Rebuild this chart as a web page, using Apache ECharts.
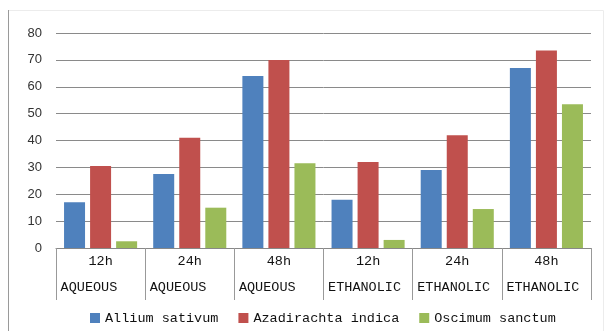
<!DOCTYPE html>
<html>
<head>
<meta charset="utf-8">
<script src="https://cdn.jsdelivr.net/npm/echarts@6/dist/echarts.min.js"></script>
<style>
  html, body { margin: 0; padding: 0; background: #fff; }
  #chart { width: 608px; height: 331px; }
</style>
</head>
<body>
<div id="chart"></div>
<script>
// Extraction time and solvent for each group of bars
const times = ['12h', '24h', '48h', '12h', '24h', '48h'];
const solvents = ['AQUEOUS', 'AQUEOUS', 'AQUEOUS', 'ETHANOLIC', 'ETHANOLIC', 'ETHANOLIC'];

const seriesNames = ['Allium sativum', 'Azadirachta indica', 'Oscimum sanctum'];
const alliumSativum = [17, 27.5, 64, 18, 29, 67];
const azadirachtaIndica = [30.5, 41, 70, 32, 42, 73.5];
const oscimumSanctum = [2.5, 15, 31.5, 3, 14.5, 53.5];

const yTicks = { min: 0, max: 80, interval: 10 };
const colors = ['#4F81BD', '#C0504D', '#9BBB59'];

const categories = times.map((t, i) => t + '|' + solvents[i]);
const values = [alliumSativum, azadirachtaIndica, oscimumSanctum];

const chart = echarts.init(document.getElementById('chart'));
chart.setOption({
  animation: false,
  color: colors,
  graphic: [
    { type: 'rect', shape: { x: 8.5, y: 10.5, width: 595, height: 330 },
      style: { fill: 'none', stroke: '#ececec', lineWidth: 1 } },
    { type: 'line', shape: { x1: 8.5, y1: 10, x2: 8.5, y2: 331 },
      style: { stroke: '#9a9a9a', lineWidth: 1 } }
  ],
  grid: { left: 56, right: 17, top: 33, bottom: 83 },
  legend: {
    left: 90,
    top: 311,
    padding: 0,
    itemWidth: 10,
    itemHeight: 10,
    itemGap: 20,
    icon: 'rect',
    textStyle: { fontFamily: 'Liberation Mono', fontSize: 13.5, color: '#111' },
    data: seriesNames
  },
  xAxis: {
    type: 'category',
    data: categories,
    axisLine: { lineStyle: { color: '#888', width: 1 } },
    axisTick: { show: true, length: 52, interval: 0, lineStyle: { color: '#999' } },
    axisLabel: {
      interval: 0,
      margin: 0,
      width: 80,
      formatter: function (v) {
        const p = v.split('|');
        return '{a|' + p[0] + '}\n{b|' + p[1] + '}';
      },
      rich: {
        a: { align: 'center', fontFamily: 'Liberation Mono', fontSize: 13.5, lineHeight: 26, color: '#111' },
        b: { align: 'left', fontFamily: 'Liberation Mono', fontSize: 13.5, lineHeight: 26, color: '#111' }
      }
    }
  },
  yAxis: {
    type: 'value',
    min: yTicks.min,
    max: yTicks.max,
    interval: yTicks.interval,
    axisLine: { show: false },
    axisTick: { show: false },
    axisLabel: { margin: 14, fontFamily: 'Liberation Sans', fontSize: 13, color: '#333' },
    splitLine: { lineStyle: { color: '#8a8a8a', width: 1 } }
  },
  series: seriesNames.map((name, i) => ({
    name: name,
    type: 'bar',
    data: values[i],
    barWidth: 21,
    barGap: '24%'
  }))
});
</script>
</body>
</html>
